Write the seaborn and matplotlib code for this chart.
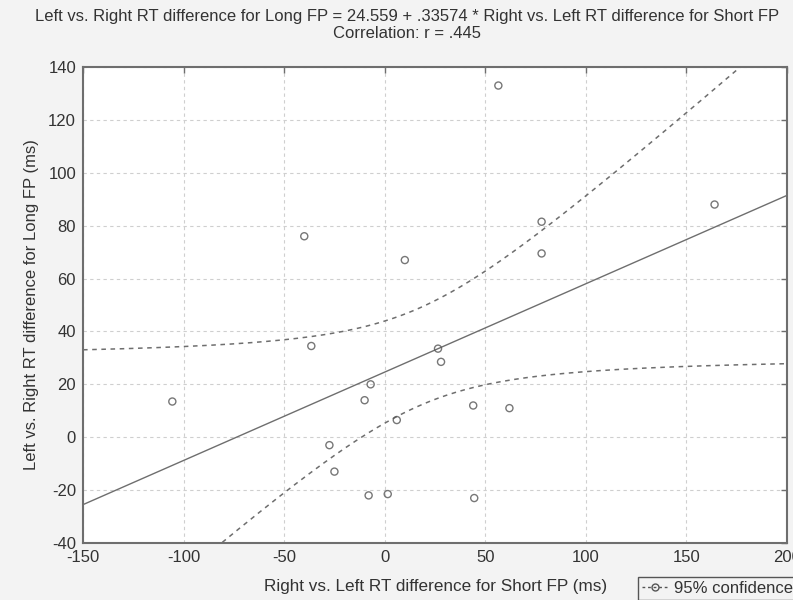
import numpy as np
import pandas as pd
import matplotlib
matplotlib.use("Agg")
import matplotlib.pyplot as plt
import seaborn as sns
from matplotlib.lines import Line2D

# diferenças de TR (ms)
short_fp = [-105.6, -40, -36.5, -27.5, -25, -10, -8, -7, 1.5, 6,
            10, 26.5, 28, 44, 44.5, 56.5, 62, 78, 78, 164]
long_fp = [13.5, 76, 34.5, -3, -13, 14, -22, 20, -21.5, 6.5,
           67, 33.5, 28.5, 12, -23, 133, 11, 81.5, 69.5, 88]

x_ticks = [-150, -100, -50, 0, 50, 100, 150, 200]
y_ticks = [-40, -20, 0, 20, 40, 60, 80, 100, 120, 140]

title = ("Left vs. Right RT difference for Long FP = 24.559 + .33574 * "
         "Right vs. Left RT difference for Short FP\nCorrelation: r = .445")

df = pd.DataFrame({"short": short_fp, "long": long_fp})

sns.set_style("white")
plt.rcParams["font.family"] = ["Liberation Sans", "DejaVu Sans"]
plt.rcParams["axes.unicode_minus"] = False

fig = plt.figure(figsize=(7.93, 6.0), dpi=100, facecolor="#f3f3f3")
ax = fig.add_axes([0.1047, 0.095, 0.8877, 0.7933])
ax.set_facecolor("white")
ax.set_xlim(-150, 200)
ax.set_ylim(-40, 140)

gray = "#6e6e6e"
txt = "#333333"

# regressão linear + pontos
sns.regplot(data=df, x="short", y="long", ax=ax, ci=None, truncate=False,
            marker="o",
            scatter_kws={"s": 26, "facecolors": "none", "edgecolors": "#555555",
                         "linewidths": 1.0, "zorder": 4},
            line_kws={"color": gray, "lw": 1.0, "zorder": 3})

# intervalo de confiança de 95% da reta
x = np.array(short_fp)
y = np.array(long_fp)
n = len(x)
b1, b0 = np.polyfit(x, y, 1)
res = y - (b0 + b1 * x)
s = np.sqrt(np.sum(res ** 2) / (n - 2))
sxx = np.sum((x - x.mean()) ** 2)
t = 2.100922  # t(0.975, 18)
xs = np.linspace(-150, 200, 300)
se = s * np.sqrt(1 / n + (xs - x.mean()) ** 2 / sxx)
yhat = b0 + b1 * xs
ax.plot(xs, yhat + t * se, ls=(0, (3, 3)), color=gray, lw=1.1, zorder=3)
ax.plot(xs, yhat - t * se, ls=(0, (3, 3)), color=gray, lw=1.1, zorder=3)
ax.set_xlim(-150, 200)
ax.set_ylim(-40, 140)

ax.set_xticks(x_ticks)
ax.set_yticks(y_ticks)
ax.grid(True, ls=(0, (3, 3)), color="#cfcfcf", lw=0.8)
ax.tick_params(direction="in", length=4, width=1, color=gray,
               top=True, right=True, labelsize=12, labelcolor=txt, pad=5)
for sp in ax.spines.values():
    sp.set_color(gray)
    sp.set_linewidth(1.5)

ax.set_xlabel("Right vs. Left RT difference for Short FP (ms)", fontsize=12.3,
              color=txt)
ax.set_ylabel("Left vs. Right RT difference for Long FP (ms)", fontsize=12,
              color=txt)
ax.xaxis.set_label_coords(0.501, -0.075)
ax.yaxis.set_label_coords(-0.063, 0.5)

fig.text(0.513, 0.985, title, ha="center", va="top", fontsize=12,
         color=txt, linespacing=1.15)

handle = Line2D([], [], color="#555555", ls=(0, (2, 2)), lw=1, marker="o",
                markerfacecolor="none", markersize=5)
fig.legend([handle], ["95% confidence"], loc="lower left",
           bbox_to_anchor=(0.794, -0.014), frameon=True, fancybox=False,
           edgecolor="#555555", framealpha=1, facecolor="#f3f3f3",
           fontsize=12, handlelength=1.6, borderpad=0.25, handletextpad=0.3,
           labelcolor=txt)

fig.savefig("out.png", dpi=100, facecolor=fig.get_facecolor())
